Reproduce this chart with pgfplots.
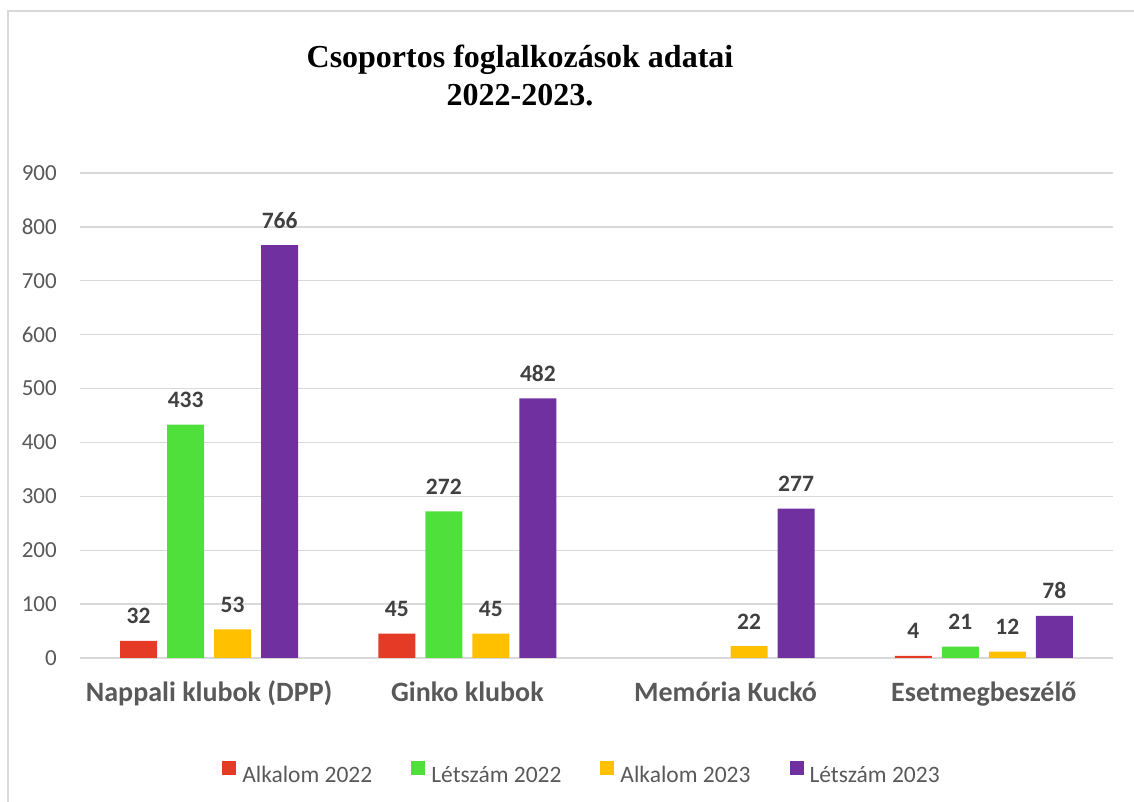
\documentclass[border=0pt]{standalone}
\usepackage{pgfplots}
\pgfplotsset{compat=1.18}
\usepackage{fontspec}
\setmainfont{Carlito}
\newfontfamily\titlefont{Liberation Serif}
\definecolor{cred}{HTML}{E53B26}
\definecolor{cgreen}{HTML}{50E03C}
\definecolor{cyellow}{HTML}{FFC000}
\definecolor{cpurple}{HTML}{7030A0}
\definecolor{cgrid}{HTML}{D9D9D9}
\definecolor{ctick}{HTML}{595959}
\definecolor{clabel}{HTML}{404040}
\begin{document}
\begin{tikzpicture}[x=1pt,y=1pt]
\begin{axis}[
  at={(80pt,144pt)}, anchor=south west,
  scale only axis, width=1033pt, height=485pt,
  xmin=-0.5, xmax=3.5, ymin=0, ymax=900,
  ybar=10pt, bar width=37pt,
  xtick={0,1,2,3},
  xticklabels={Nappali klubok (DPP),Ginko klubok,Memória Kuckó,Esetmegbeszélő},
  ytick={0,100,...,900},
  ymajorgrids, major grid style={cgrid, line width=1.4pt},
  axis line style={draw=none},
  major tick length=0pt,
  /pgf/number format/assume math mode=true,
  /pgf/number format/1000 sep={},
  yticklabel style={font=\fontsize{23}{27}\selectfont, text=ctick, anchor=east, inner sep=0pt, xshift=-23pt},
  xticklabel style={font=\bfseries\fontsize{28}{33}\selectfont, text=ctick, anchor=base, inner sep=0pt, yshift=-44pt},
  nodes near coords,
  every node near coord/.append style={font=\bfseries\fontsize{23.5}{27}\selectfont, text=clabel, anchor=base, inner sep=0pt, yshift=17pt},
  legend columns=4,
  legend image code/.code={\draw[#1,draw=none] (0pt,0pt) rectangle (14pt,14pt);},
  legend style={at={(0.485,-0.237)}, anchor=center, draw=none, fill=none,
    font=\fontsize{23.5}{27}\selectfont, text=ctick,
    nodes={inner sep=0pt},
    /tikz/every odd column/.append style={column sep=6pt},
    /tikz/every even column/.append style={column sep=39pt}},
]
\addplot[fill=cred, draw=none] coordinates {(0,32) (1,45) (3,4)};
\addplot[fill=cgreen, draw=none] coordinates {(0,433) (1,272) (3,21)};
\addplot[fill=cyellow, draw=none] coordinates {(0,53) (1,45) (2,22) (3,12)};
\addplot[fill=cpurple, draw=none] coordinates {(0,766) (1,482) (2,277) (3,78)};
\legend{Alkalom 2022,Létszám 2022,Alkalom 2023,Létszám 2023}
\end{axis}
\draw[cgrid, line width=1.5pt] (8,0) -- (8,791) -- (1134,791);
\node[anchor=base, font=\titlefont\bfseries\fontsize{32}{38}\selectfont] at (520,734) {Csoportos foglalkozások adatai};
\node[anchor=base, font=\titlefont\bfseries\fontsize{32}{38}\selectfont] at (520,696) {2022-2023.};
\pgfresetboundingbox
\path[use as bounding box] (0,0) rectangle (1134,802);
\end{tikzpicture}
\end{document}
